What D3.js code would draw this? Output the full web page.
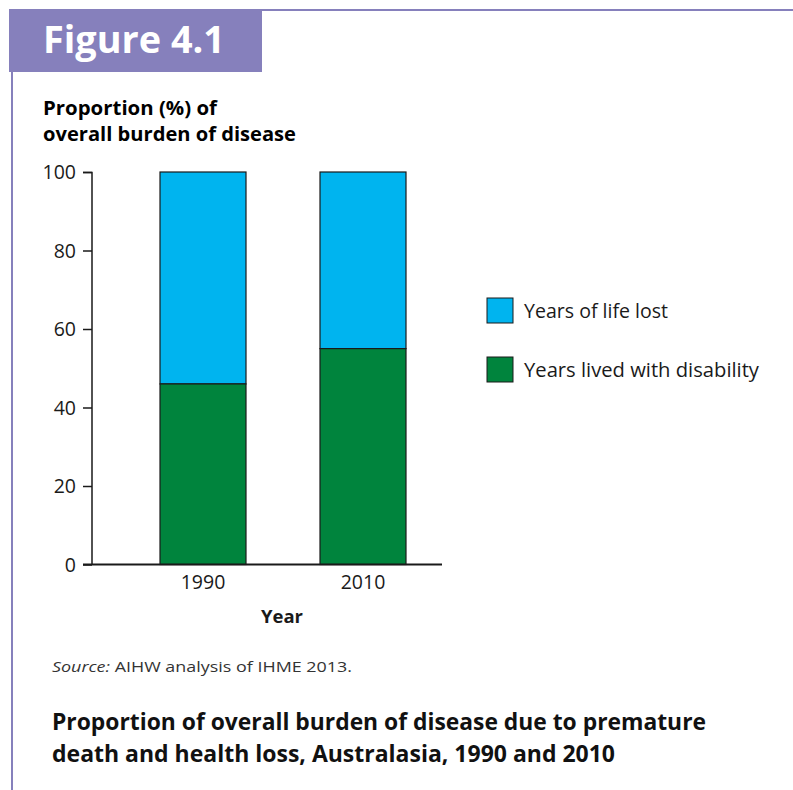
<!DOCTYPE html>
<html>
<head>
<meta charset="utf-8">
<script src="https://cdn.jsdelivr.net/npm/d3@7"></script>
<style>
html,body{margin:0;padding:0;background:#fff;}
svg{display:block;font-family:"Open Sans","Noto Sans",sans-serif;}
</style>
</head>
<body>
<svg id="chart" width="793" height="790"></svg>
<script>
const years = ["1990", "2010"];
const disability = [46, 55];           // Years lived with disability (%)
const lifeLost = [54, 45];             // Years of life lost (%)
const seriesNames = ["Years of life lost", "Years lived with disability"];
const seriesColors = ["#00b4ef", "#00843d"];
const yTicks = [0, 20, 40, 60, 80, 100];

const svg = d3.select("#chart");
const purple = "#8680bc";

// Frame
svg.append("rect").attr("x", 10).attr("y", 9).attr("width", 783).attr("height", 2).attr("fill", purple);
svg.append("rect").attr("x", 11).attr("y", 9).attr("width", 2).attr("height", 781).attr("fill", purple);
svg.append("rect").attr("x", 9).attr("y", 9).attr("width", 253).attr("height", 63).attr("fill", purple);
svg.append("text").attr("x", 43).attr("y", 53).attr("fill", "#fff")
  .attr("font-size", 37).attr("font-weight", 700).attr("textLength", 182).attr("lengthAdjust", "spacingAndGlyphs")
  .text("Figure 4.1");

// Y axis title
svg.append("text").attr("x", 43).attr("y", 115).attr("font-size", 19).attr("font-weight", 700)
  .attr("textLength", 174).attr("lengthAdjust", "spacingAndGlyphs").text("Proportion (%) of");
svg.append("text").attr("x", 43).attr("y", 141).attr("font-size", 19).attr("font-weight", 700)
  .attr("textLength", 253).attr("lengthAdjust", "spacingAndGlyphs").text("overall burden of disease");

// Scales
const y = d3.scaleLinear().domain([0, 100]).range([564.5, 172]);
const x = d3.scaleBand().domain(years).range([92, 474]).paddingInner(0.4625).paddingOuter(0.425);

// Bars
const data = years.map((yr, i) => ({year: yr, dis: disability[i], yll: lifeLost[i]}));
const g = svg.append("g");
data.forEach(d => {
  g.append("rect").attr("x", x(d.year)).attr("width", x.bandwidth())
    .attr("y", y(d.dis + d.yll)).attr("height", y(d.dis) - y(d.dis + d.yll))
    .attr("fill", seriesColors[0]).attr("stroke", "#1a1a1a").attr("stroke-width", 1.2);
  g.append("rect").attr("x", x(d.year)).attr("width", x.bandwidth())
    .attr("y", y(d.dis)).attr("height", y(0) - y(d.dis))
    .attr("fill", seriesColors[1]).attr("stroke", "#1a1a1a").attr("stroke-width", 1.2);
});

// Y axis
const yAxis = svg.append("g").attr("transform", "translate(92,0)")
  .call(d3.axisLeft(y).tickValues(yTicks).tickSize(9).tickPadding(7));
yAxis.select(".domain").attr("stroke", "#1a1a1a").attr("stroke-width", 1.5).attr("d", "M-9,172.5H0V564.5");
yAxis.selectAll(".tick line").attr("stroke", "#1a1a1a").attr("stroke-width", 1.5);
yAxis.selectAll(".tick text").attr("font-size", 19.5).attr("fill", "#1a1a1a")
  .attr("font-family", "'Open Sans','Noto Sans',sans-serif").attr("dy", "0.34em");

// X axis
const xAxis = svg.append("g").attr("transform", "translate(0,564.5)")
  .call(d3.axisBottom(x).tickSize(0).tickPadding(9));
xAxis.select(".domain").attr("d", "M83,0H442").attr("stroke", "#1a1a1a").attr("stroke-width", 2);
xAxis.selectAll(".tick text").attr("font-size", 19.5).attr("fill", "#1a1a1a")
  .attr("font-family", "'Open Sans','Noto Sans',sans-serif").attr("dy", "0.82em");

svg.append("text").attr("x", 282).attr("y", 623).attr("text-anchor", "middle")
  .attr("font-size", 18.5).attr("font-weight", 700).attr("fill", "#1a1a1a").text("Year");

// Legend
const legendY = [298, 357];
const legendW = [144, 235];
seriesNames.forEach((name, i) => {
  svg.append("rect").attr("x", 487).attr("y", legendY[i]).attr("width", 26).attr("height", 25)
    .attr("fill", seriesColors[i]).attr("stroke", "#1a1a1a").attr("stroke-width", 1);
  svg.append("text").attr("x", 524).attr("y", legendY[i] + 20).attr("font-size", 19.5).attr("fill", "#1a1a1a")
    .attr("textLength", legendW[i]).attr("lengthAdjust", "spacingAndGlyphs")
    .text(name);
});

// Source
const src = svg.append("text").attr("x", 52).attr("y", 672).attr("font-size", 15).attr("fill", "#333")
  .attr("textLength", 300).attr("lengthAdjust", "spacingAndGlyphs");
src.append("tspan").attr("font-style", "italic").text("Source:");
src.append("tspan").text(" AIHW analysis of IHME 2013.");

// Caption
svg.append("text").attr("x", 52).attr("y", 730).attr("font-size", 24).attr("font-weight", 700).attr("fill", "#111")
  .attr("textLength", 654).attr("lengthAdjust", "spacingAndGlyphs")
  .text("Proportion of overall burden of disease due to premature");
svg.append("text").attr("x", 52).attr("y", 762).attr("font-size", 24).attr("font-weight", 700).attr("fill", "#111")
  .attr("textLength", 563).attr("lengthAdjust", "spacingAndGlyphs")
  .text("death and health loss, Australasia, 1990 and 2010");
</script>
</body>
</html>
